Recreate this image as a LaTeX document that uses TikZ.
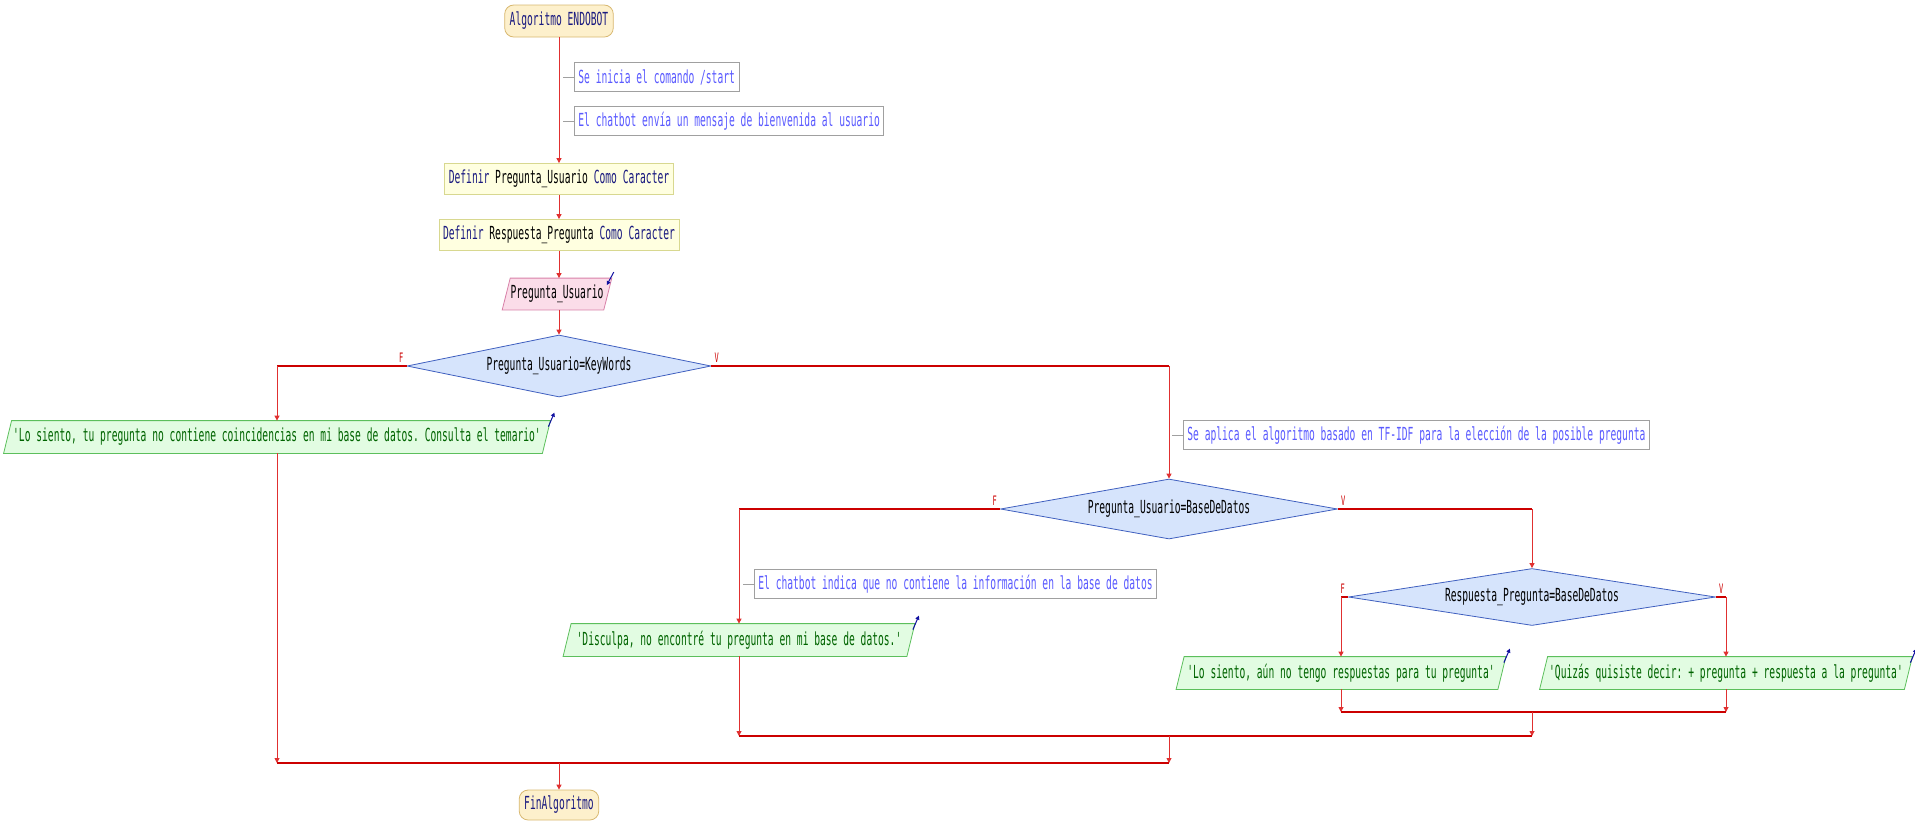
\documentclass[tikz,border=0pt]{standalone}
\usepackage{fontspec}
\setmonofont{DejaVu Sans Mono}[FakeStretch=0.535]
\usetikzlibrary{shapes.geometric,arrows.meta,calc}
\definecolor{navy}{HTML}{1A1A80}
\definecolor{startf}{HTML}{FDF0CC}
\definecolor{startb}{HTML}{D8B870}
\definecolor{deff}{HTML}{FFFFE0}
\definecolor{defb}{HTML}{D8D890}
\definecolor{inpf}{HTML}{FBDDE9}
\definecolor{inpb}{HTML}{D880A8}
\definecolor{decf}{HTML}{D6E4FC}
\definecolor{decb}{HTML}{3F5FBF}
\definecolor{outf}{HTML}{E2FCE2}
\definecolor{outb}{HTML}{5CBF5C}
\definecolor{outt}{HTML}{006400}
\definecolor{cmtb}{HTML}{A0A0A0}
\definecolor{cmtt}{HTML}{5A5AFF}
\definecolor{flowred}{HTML}{E03030}
\definecolor{branchred}{HTML}{CC0000}
\definecolor{iconblue}{HTML}{1010A0}
\pgfdeclarelayer{bg}
\pgfsetlayers{bg,main}
\newcommand\pgram[3]{%
  \begin{pgfonlayer}{bg}
  \filldraw[fill=#2,draw=#3,line width=0.8pt]
    ([xshift=-4pt]#1.south west) -- ([xshift=4pt]#1.north west) --
    ([xshift=4pt]#1.north east) -- ([xshift=-4pt]#1.south east) -- cycle;
  \end{pgfonlayer}}
\newcommand\outicon[1]{%
  \draw[icon] ([xshift=2pt,yshift=-6pt]#1.north east) -- ([xshift=8pt,yshift=8pt]#1.north east);}
\newcommand\inicon[1]{%
  \draw[icon] ([xshift=6pt,yshift=6pt]#1.north east) -- ([xshift=-1pt,yshift=-7pt]#1.north east);}
\begin{document}
\begin{tikzpicture}[x=1pt,y=-1pt,
  txt/.style={font=\ttfamily\fontsize{18}{20}\selectfont, inner xsep=4pt, inner ysep=0pt, line width=0.8pt},
  startnode/.style={txt, draw=startb, fill=startf, rounded corners=9pt, text=navy, minimum height=32pt, inner xsep=5pt},
  defn/.style={txt, draw=defb, fill=deff, minimum height=31pt, text=black},
  inp/.style={txt, minimum height=31pt, text=black},
  dec/.style={txt, diamond, draw=decb, fill=decf, inner sep=0pt, aspect=5, text=black},
  outp/.style={txt, minimum height=32pt, text=outt},
  cmt/.style={txt, draw=cmtb, fill=white, text=cmtt, minimum height=29pt, anchor=west},
  lbl/.style={font=\ttfamily\fontsize{13}{13}\selectfont, text=branchred, inner sep=1pt},
  flow/.style={draw=flowred, line width=0.9pt, -{Triangle[length=5pt,width=5pt]}},
  flowplain/.style={draw=flowred, line width=0.9pt},
  branch/.style={draw=branchred, line width=2pt},
  tickl/.style={draw=cmtb, line width=1pt},
  icon/.style={draw=iconblue, line width=1pt, -{Triangle[length=4pt,width=4pt]}}
]
\useasboundingbox (0,0) rectangle (1915,820);

% nodes
\node[startnode] (start) at (559,21) {Algoritmo ENDOBOT};
\node[cmt] (c1) at (574,77) {Se inicia el comando /start};
\node[cmt] (c2) at (574,121) {El chatbot envía un mensaje de bienvenida al usuario};
\node[defn] (d1) at (559,179) {\textcolor{navy}{Definir} Pregunta\_Usuario \textcolor{navy}{Como Caracter}};
\node[defn] (d2) at (559,235) {\textcolor{navy}{Definir} Respuesta\_Pregunta \textcolor{navy}{Como Caracter}};
\node[inp, minimum width=100pt] (in1) at (557,294) {Pregunta\_Usuario};
\pgram{in1}{inpf}{inpb}
\inicon{in1}
\node[dec, minimum width=304pt, minimum height=62pt] (q1) at (559,366) {Pregunta\_Usuario=KeyWords};
\node[outp, minimum width=538pt] (o1) at (277,437) {'Lo siento, tu pregunta no contiene coincidencias en mi base de datos. Consulta el temario'};
\pgram{o1}{outf}{outb}
\outicon{o1}
\node[cmt] (c3) at (1183,435) {Se aplica el algoritmo basado en TF-IDF para la elección de la posible pregunta};
\node[dec, minimum width=337pt, minimum height=60pt] (q2) at (1169,509) {Pregunta\_Usuario=BaseDeDatos};
\node[cmt] (c4) at (754,584) {El chatbot indica que no contiene la información en la base de datos};
\node[outp, minimum width=343pt] (o2) at (739,640) {'Disculpa, no encontré tu pregunta en mi base de datos.'};
\pgram{o2}{outf}{outb}
\outicon{o2}
\node[dec, minimum width=367pt, minimum height=57pt] (q3) at (1532,597) {Respuesta\_Pregunta=BaseDeDatos};
\node[outp, minimum width=321pt] (o3) at (1341,673) {'Lo siento, aún no tengo respuestas para tu pregunta'};
\pgram{o3}{outf}{outb}
\outicon{o3}
\node[outp, minimum width=364pt] (o4) at (1726,673) {'Quizás quisiste decir: + pregunta + respuesta a la pregunta'};
\pgram{o4}{outf}{outb}
\outicon{o4}
\node[startnode, minimum height=30pt] (fin) at (559,805) {FinAlgoritmo};
\coordinate (m3) at (1532,712);
\coordinate (m2) at (1169,736);
\coordinate (m1) at (559,763);

% comment ticks
\draw[tickl] (c1.west) -- ++(-11,0);
\draw[tickl] (c2.west) -- ++(-11,0);
\draw[tickl] (c3.west) -- ++(-11,0);
\draw[tickl] (c4.west) -- ++(-11,0);

% main flow
\draw[flow] (start) -- (d1);
\draw[flow] (d1) -- (d2);
\draw[flow] (d2) -- (in1.north -| d2.south);
\draw[flow] (in1.south -| q1.north) -- (q1);

% decision 1
\draw[branch] (q1.west) -- (q1.west -| o1.north);
\draw[flow] (q1.west -| o1.north) -- (o1.north);
\draw[branch] (q1.east) -- (q1.east -| q2.north);
\draw[flow] (q1.east -| q2.north) -- (q2.north);
\node[lbl, anchor=south east] (f1) at ([xshift=-2pt,yshift=2pt]q1.west) {F};
\node[lbl, anchor=south west] (v1) at ([xshift=2pt,yshift=2pt]q1.east) {V};

% decision 2
\draw[branch] (q2.west) -- (q2.west -| o2.north);
\draw[flow] (q2.west -| o2.north) -- (o2.north);
\draw[branch] (q2.east) -- (q2.east -| q3.north);
\draw[flow] (q2.east -| q3.north) -- (q3.north);
\node[lbl, anchor=south east] (f2) at ([xshift=-2pt,yshift=2pt]q2.west) {F};
\node[lbl, anchor=south west] (v2) at ([xshift=2pt,yshift=2pt]q2.east) {V};

% decision 3
\draw[branch] (q3.west) -- (q3.west -| o3.north);
\draw[flow] (q3.west -| o3.north) -- (o3.north);
\draw[branch] (q3.east) -- (q3.east -| o4.north);
\draw[flow] (q3.east -| o4.north) -- (o4.north);
\node[lbl, anchor=south east] (f3) at ([xshift=-2pt,yshift=2pt]q3.west) {F};
\node[lbl, anchor=south west] (v3) at ([xshift=2pt,yshift=2pt]q3.east) {V};

% merges
\draw[flow] (o3.south) -- (o3.south |- m3);
\draw[flow] (o4.south) -- (o4.south |- m3);
\draw[branch] (o3.south |- m3) -- (o4.south |- m3);
\draw[flow] (m3) -- (m3 |- m2);
\draw[flow] (o2.south) -- (o2.south |- m2);
\draw[branch] (o2.south |- m2) -- (m3 |- m2);
\draw[flow] (m2) -- (m2 |- m1);
\draw[flow] (o1.south) -- (o1.south |- m1);
\draw[branch] (o1.south |- m1) -- (m2 |- m1);
\draw[flow] (m1) -- (fin.north);
\end{tikzpicture}
\end{document}
